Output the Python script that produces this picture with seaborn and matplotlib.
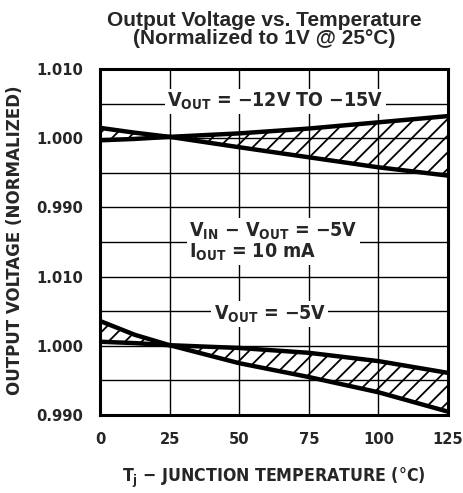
import matplotlib
matplotlib.use("Agg")
import matplotlib.pyplot as plt
import numpy as np
import seaborn as sns

# junction temperature (deg C)
temps = [0, 12.5, 25, 50, 75, 100, 125]

# V_OUT = -12V to -15V band (normalized)
hi_upper = [1.0015, 1.0008, 1.0002, 1.0007, 1.0014, 1.0023, 1.0032]
hi_lower = [0.9997, 0.9999, 1.0002, 0.9987, 0.99725, 0.9958, 0.9946]

# V_OUT = -5V band (normalized)
lo_flat = [1.0006, 1.0004, 1.0001, 0.9997, 0.9990, 0.9978, 0.9961]
lo_steep = [1.0036, 1.0016, 1.0001, 0.9975, 0.9955, 0.9933, 0.9905]

x_ticks = [0, 25, 50, 75, 100, 125]
y_ticks = [0.990, 1.000, 1.010]
y_ticklabels = ["0.990", "1.000", "1.010"]

sns.set_theme(style="white")
plt.rcParams["font.family"] = ["DejaVu Sans"]
plt.rcParams["font.stretch"] = "condensed"
plt.rcParams["font.weight"] = "bold"
plt.rcParams["axes.labelweight"] = "bold"
plt.rcParams["mathtext.fontset"] = "custom"
plt.rcParams["mathtext.rm"] = "DejaVu Sans:weight=bold:stretch=condensed"
plt.rcParams["mathtext.it"] = "DejaVu Sans:weight=bold:stretch=condensed"
plt.rcParams["mathtext.bf"] = "DejaVu Sans:weight=bold:stretch=condensed"
plt.rcParams["hatch.linewidth"] = 1.3
plt.rcParams["hatch.color"] = "black"

fig = plt.figure(figsize=(4.64, 4.93), dpi=100)
left, right, top, bottom = 0.2155, 0.9655, 0.86, 0.158
half = (top - bottom) / 2
ax_top = fig.add_axes([left, bottom + half, right - left, half])
ax_bot = fig.add_axes([left, bottom, right - left, half])


def style_panel(ax, ylim, hide):
    ax.set_xlim(0, 125)
    ax.set_ylim(*ylim)
    ax.set_yticks(y_ticks)
    ax.set_yticklabels(y_ticklabels)
    ax.set_xticks(x_ticks)
    ax.tick_params(length=0, labelsize=11.8, pad=12)
    for y in np.arange(0.985, 1.0151, 0.005):
        if ylim[0] - 1e-9 <= y <= ylim[1] + 1e-9:
            ax.axhline(y, color="black", lw=1.0, zorder=1)
    for x in x_ticks[1:-1]:
        ax.axvline(x, color="black", lw=1.0, zorder=1)
    for s in ax.spines.values():
        s.set_linewidth(2.2)
        s.set_color("black")
    ax.spines[hide].set_visible(False)
    ax.set_xlabel("")
    ax.set_ylabel("")


def draw_band(ax, a, b):
    ax.fill_between(temps, a, b, facecolor="none", edgecolor="black",
                    hatch="//", linewidth=0, zorder=2)
    sns.lineplot(x=temps, y=a, ax=ax, color="black", lw=3.2, zorder=3)
    sns.lineplot(x=temps, y=b, ax=ax, color="black", lw=3.2, zorder=3)


draw_band(ax_top, hi_upper, hi_lower)
draw_band(ax_bot, lo_flat, lo_steep)

style_panel(ax_top, (0.985, 1.010), "bottom")
style_panel(ax_bot, (0.990, 1.015), "top")
ax_top.tick_params(labelbottom=False)

box = dict(facecolor="white", edgecolor="none", pad=1.5)
ax_top.text(63, 1.0053, r"$\mathrm{V_{OUT}}$ = −12V TO −15V", ha="center",
            va="center", fontsize=14, bbox=box, zorder=4)
ax_bot.text(61, 1.0046, r"$\mathrm{V_{OUT}}$ = −5V", ha="center",
            va="center", fontsize=14, bbox=box, zorder=4)
ax_bot.text(32, 1.0166, r"$\mathrm{V_{IN}}$ − $\mathrm{V_{OUT}}$ = −5V",
            ha="left", va="center", fontsize=14, bbox=box, zorder=4,
            clip_on=False)
ax_bot.text(32, 1.0135, r"$\mathrm{I_{OUT}}$ = 10 mA", ha="left",
            va="center", fontsize=14, bbox=box, zorder=4, clip_on=False)

ax_bot.set_xlabel(r"$\mathrm{T_j}$ − JUNCTION TEMPERATURE (°C)",
                  fontsize=12.7, fontweight="bold", labelpad=14)
fig.text(0.032, (top + bottom) / 2 + 0.004, "OUTPUT VOLTAGE (NORMALIZED)",
         rotation=90, ha="center", va="center", fontsize=13.3)
fig.text(0.569, 0.94, "Output Voltage vs. Temperature\n(Normalized to 1V @ 25°C)",
         ha="center", va="center", fontsize=15, fontweight="bold",
         family=["Liberation Sans", "DejaVu Sans"], fontstretch="normal",
         linespacing=0.92)

fig.savefig("out.png", dpi=100)
